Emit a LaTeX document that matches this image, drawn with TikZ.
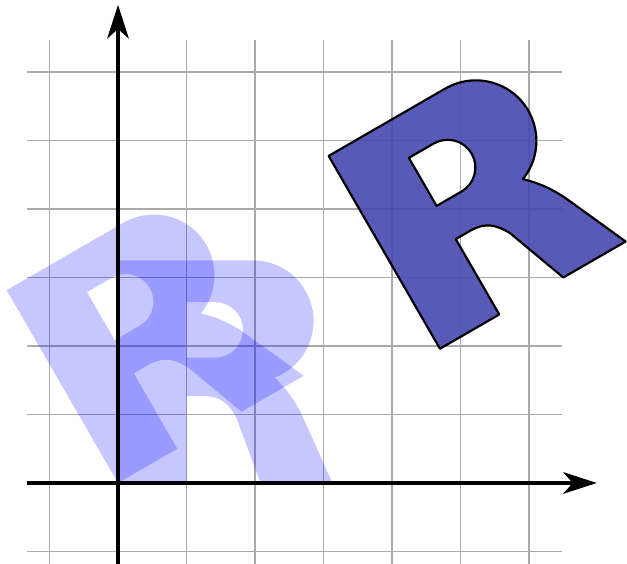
\documentclass[tikz,border=0pt]{standalone}
\usetikzlibrary{arrows.meta}
\definecolor{gridgray}{RGB}{170,170,170}
\definecolor{darkR}{RGB}{72,72,176}
\newcommand{\letterRpath}{(0,0) -- (1,0) -- (1,1.27) -- (1.25,1.27) .. controls (1.5,1.27) and (1.62,1.15) .. (1.73,0.95) -- (2.08,0) -- (3.13,0) -- (2.74,0.87) .. controls (2.6,1.2) and (2.45,1.38) .. (2.287,1.539) arc[start angle=-69,end angle=90,radius=0.885] -- (0,3.25) -- cycle (1,1.83) -- (1.42,1.83) arc[start angle=-90,end angle=90,radius=0.405] -- (1,2.64) -- cycle}
\tikzset{
  gridline/.style={draw=gridgray, line width=0.6pt},
  axisline/.style={draw=black, line width=1.3pt, -{Stealth[length=14pt,width=9pt,inset=4pt]}},
  ghostR/.style={fill=blue, fill opacity=0.22, even odd rule},
  finalR/.style={fill=darkR, fill opacity=0.9, draw=black, line width=0.9pt, even odd rule, line join=round},
}
\begin{document}
\begin{tikzpicture}
\useasboundingbox (-1.723,-1.182) rectangle (7.431,7.051);
\fill[white] (-1.723,-1.182) rectangle (7.431,7.051);
% grid
\foreach \x in {-1,...,6} \draw[gridline] (\x,-1.182) -- (\x,6.47);
\foreach \y in {-1,...,6} \draw[gridline] (-1.33,\y) -- (6.48,\y);
% original R
\path[ghostR] \letterRpath;
% rotated R
\begin{scope}[rotate=30]
\path[ghostR] \letterRpath;
\end{scope}
% rotated and translated R
\begin{scope}[shift={(4.70,1.96)}, rotate=30]
\path[finalR] \letterRpath;
\end{scope}
% axes
\coordinate (xs) at (-1.33,0);
\coordinate (xe) at (6.99,0);
\coordinate (ys) at (0,-1.182);
\coordinate (ye) at (0,6.98);
\draw[axisline] (xs) -- (xe);
\draw[axisline] (ys) -- (ye);
\end{tikzpicture}
\end{document}
